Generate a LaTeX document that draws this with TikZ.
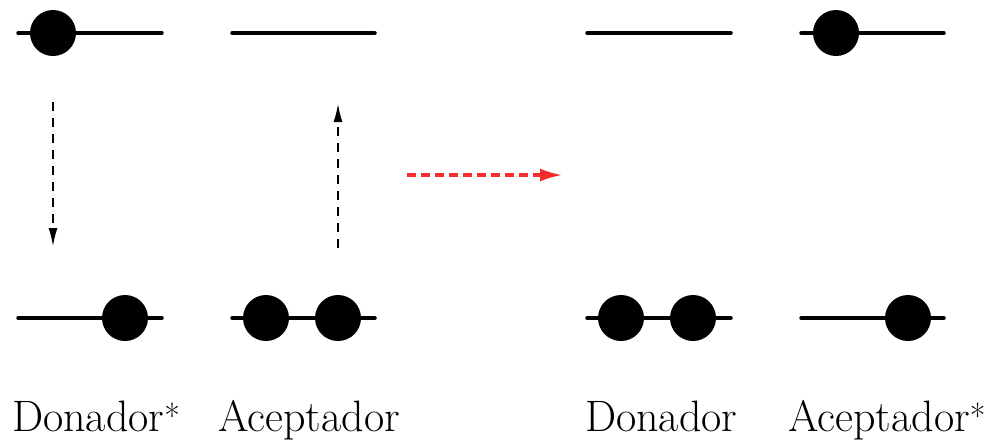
\documentclass[tikz,border=0pt]{standalone}
\usetikzlibrary{arrows.meta}
\definecolor{arrred}{RGB}{245,45,45}
\newcommand{\starmark}{\raisebox{3pt}{\fontsize{34}{34}\selectfont *}}
\begin{document}
\begin{tikzpicture}[x=1pt,y=-1pt,
  level/.style={line width=3.5pt,line cap=round},
  electron/.style={circle,fill=black,inner sep=0pt,minimum size=46pt},
  trans/.style={line width=1.4pt,dash pattern=on 9pt off 7pt,-{Latex[length=18pt,width=9pt]}},
  transfer/.style={arrred,line width=3.6pt,dash pattern=on 9pt off 5pt,-{Latex[length=23pt,width=13pt]}},
  lbl/.style={anchor=base west,inner sep=0pt,font=\fontsize{44}{50}\selectfont}]
\useasboundingbox (0,0) rectangle (989,440);
% levels
\coordinate (d1a) at (18,33);  \coordinate (d1b) at (162,33);
\coordinate (a1a) at (232,33); \coordinate (a1b) at (375,33);
\coordinate (d2a) at (587,33); \coordinate (d2b) at (731,33);
\coordinate (a2a) at (801,33); \coordinate (a2b) at (944,33);
\coordinate (d1c) at (18,318);  \coordinate (d1d) at (162,318);
\coordinate (a1c) at (232,318); \coordinate (a1d) at (375,318);
\coordinate (d2c) at (587,318); \coordinate (d2d) at (731,318);
\coordinate (a2c) at (801,318); \coordinate (a2d) at (944,318);
\foreach \p/\q in {d1a/d1b,a1a/a1b,d2a/d2b,a2a/a2b,d1c/d1d,a1c/a1d,d2c/d2d,a2c/a2d}
  \draw[level] (\p) -- (\q);
% electrons
\node[electron] (e1) at (53,33) {};
\node[electron] (e2) at (125,318) {};
\node[electron] (e3) at (266,318) {};
\node[electron] (e4) at (338,318) {};
\node[electron] (e5) at (621,318) {};
\node[electron] (e6) at (693,318) {};
\node[electron] (e7) at (836,33) {};
\node[electron] (e8) at (908,318) {};
% transitions
\coordinate (t1s) at (53,102); \coordinate (t1e) at (53,246);
\coordinate (t2s) at (338,248); \coordinate (t2e) at (338,104);
\draw[trans] (t1s) -- (t1e);
\draw[trans] (t2s) -- (t2e);
\coordinate (rs) at (407,175); \coordinate (re) at (563,175);
\draw[transfer] (rs) -- (re);
% labels
\node[lbl] (l1) at (12,431) {Donador\starmark};
\node[lbl] (l2) at (218,431) {Aceptador};
\node[lbl] (l3) at (585,431) {Donador};
\node[lbl] (l4) at (788,431) {Aceptador\starmark};
\end{tikzpicture}
\end{document}
